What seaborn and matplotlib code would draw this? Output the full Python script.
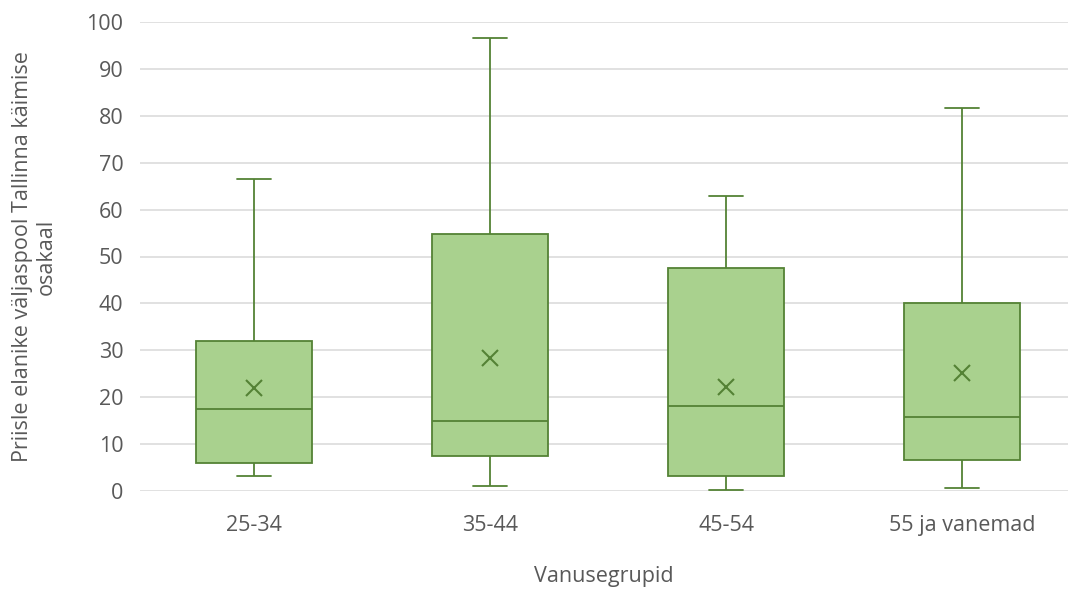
import numpy as np
import pandas as pd
import matplotlib
matplotlib.use("Agg")
import matplotlib.pyplot as plt
import seaborn as sns

# Five-number summaries (whiskers = min/max)
groups = ["25-34", "35-44", "45-54", "55 ja vanemad"]
whisker_low = [3.2, 1.1, 0.3, 0.7]
q1 = [6.0, 7.5, 3.2, 6.7]
median = [17.5, 15.0, 18.2, 15.8]
q3 = [32.0, 54.7, 47.5, 40.0]
whisker_high = [66.5, 96.5, 63.0, 81.7]
means = [22.0, 28.4, 22.2, 25.2]

FILL = "#A9D18E"
EDGE = "#548235"
TEXT = "#595959"
GRID = "#D9D9D9"

# long-form table: with 5 points per group the quartiles land exactly on q1/median/q3
rows = []
for i, g in enumerate(groups):
    for v in (whisker_low[i], q1[i], median[i], q3[i], whisker_high[i]):
        rows.append({"group": g, "value": v})
df = pd.DataFrame(rows)
df_mean = pd.DataFrame({"group": groups, "mean": means})

sns.set_theme(style="white")
plt.rcParams["font.family"] = ["Open Sans", "DejaVu Sans"]

fig = plt.figure(figsize=(10.68, 5.9), dpi=100)
ax = fig.add_axes([140 / 1068, 99 / 590, 928 / 1068, 469 / 590])

sns.boxplot(
    data=df, x="group", y="value", order=groups,
    whis=(0, 100), width=0.49, capwidths=0.145,
    color=FILL, linecolor=EDGE, linewidth=1.3,
    fliersize=0, saturation=1, ax=ax,
)
sns.pointplot(
    data=df_mean, x="group", y="mean", order=groups,
    linestyle="none", marker="x", markersize=12, markeredgewidth=1.5,
    color=EDGE, errorbar=None, ax=ax,
)

ax.set_ylim(0, 100)
ax.set_xlim(-0.483, 3.449)
ax.set_yticks(np.arange(0, 101, 10))
ax.yaxis.grid(True, color=GRID, linewidth=1.1)
ax.set_axisbelow(True)
for s in ax.spines.values():
    s.set_visible(False)

ax.tick_params(axis="y", length=0, pad=12, labelsize=15.5, labelcolor=TEXT)
ax.tick_params(axis="x", length=0, pad=17, labelsize=15.5, labelcolor=TEXT)

ax.set_xlabel("Vanusegrupid", fontsize=15.5, color=TEXT, labelpad=22)
ax.set_ylabel("Priisle elanike väljaspool Tallinna käimise\nosakaal",
              fontsize=15.5, color=TEXT, labelpad=21, linespacing=1.2)

fig.savefig("out.png", dpi=100)
